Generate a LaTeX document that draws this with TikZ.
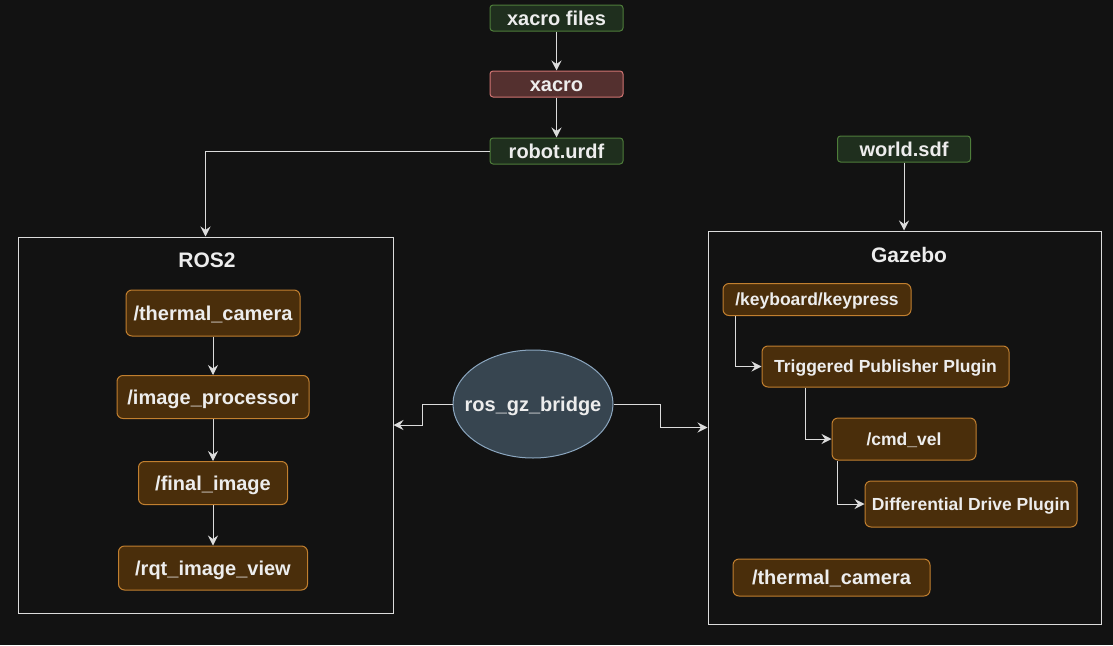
\documentclass[tikz,border=0pt]{standalone}
\usepackage{fontspec}
\setmainfont{Liberation Sans}
\usetikzlibrary{calc,arrows.meta,shapes.geometric}

\definecolor{bgcol}{HTML}{121212}
\definecolor{txtcol}{HTML}{EDEDED}
\definecolor{linecol}{HTML}{DCDCDC}
\definecolor{greenfill}{HTML}{1F2F1E}
\definecolor{greenline}{HTML}{4E7D3A}
\definecolor{redfill}{HTML}{54302F}
\definecolor{redline}{HTML}{D07472}
\definecolor{orangefill}{HTML}{4A2E0B}
\definecolor{orangeline}{HTML}{C17F2F}
\definecolor{bridgefill}{HTML}{374550}
\definecolor{bridgeline}{HTML}{8BA6BF}

\tikzset{
    base/.style={rounded corners=3pt, line width=1pt, text=txtcol, inner sep=0pt,
        font=\fontsize{20}{24}\selectfont\bfseries, text height=16pt, text depth=2pt, minimum height=26pt},
    filebox/.style={base, draw=greenline, fill=greenfill, minimum width=133pt},
    toolbox/.style={base, draw=redline, fill=redfill, minimum width=133pt},
    topicbox/.style={base, draw=orangeline, fill=orangefill, rounded corners=6pt},
    smalltext/.style={font=\fontsize{17.5}{21}\selectfont\bfseries, text height=14pt, text depth=1.5pt},
    titletext/.style={text=txtcol, font=\fontsize{21}{25}\selectfont\bfseries},
    groupbox/.style={draw=linecol, line width=1pt},
    arr/.style={-{Stealth[length=10pt,width=10pt,inset=3.5pt]}, draw=linecol, line width=1pt}
}

\begin{document}
\begin{tikzpicture}[x=1pt,y=-1pt]
            \fill [bgcol] (0,0) rectangle (1113,645);

            % file chain
            \node [filebox] (xfiles) at (556.5,18) {xacro files};
            \node [toolbox] (xacro) at (556.5,84) {xacro};
            \node [filebox] (urdf) at (556.5,151) {robot.urdf};
            \node [filebox] (world) at (904,149) {world.sdf};

            % groups
            \node [groupbox, minimum width=375pt, minimum height=376pt] (ros) at (205.5,425) {};
            \node [groupbox, minimum width=393pt, minimum height=393pt] (gz) at (904.5,427.5) {};
            \node [titletext] (rostitle) at (207,260) {ROS2};
            \node [titletext] (gztitle) at (909,255) {Gazebo};

            % ROS2 side
            \node [topicbox, minimum width=174pt, minimum height=46pt] (rcam) at (213,313) {/thermal\_camera};
            \node [topicbox, minimum width=192pt, minimum height=43pt] (proc) at (213,397) {/image\_processor};
            \node [topicbox, minimum width=149pt, minimum height=43pt] (final) at (213,483) {/final\_image};
            \node [topicbox, minimum width=189pt, minimum height=44pt] (rqt) at (213,568) {/rqt\_image\_view};

            % Gazebo side
            \node [topicbox, smalltext, minimum width=188pt, minimum height=32pt] (kbd) at (817,299.5) {/keyboard/keypress};
            \node [topicbox, smalltext, minimum width=247pt, minimum height=41pt] (tpp) at (885.5,366.5) {Triggered Publisher Plugin};
            \node [topicbox, smalltext, minimum width=144pt, minimum height=42pt] (cmd) at (904,439) {/cmd\_vel};
            \node [topicbox, smalltext, minimum width=212pt, minimum height=46pt] (ddp) at (971,504) {Differential Drive Plugin};
            \node [topicbox, minimum width=197pt, minimum height=37pt] (gcam) at (831.5,577.5) {/thermal\_camera};

            % bridge
            \node [ellipse, draw=bridgeline, fill=bridgefill, line width=1pt, text=txtcol, inner xsep=-14pt, inner ysep=0pt,
                minimum width=160pt, minimum height=108pt, font=\fontsize{20}{24}\selectfont\bfseries,
                text height=16pt, text depth=2pt] (bridge) at (533,404) {ros\_gz\_bridge};

            \draw [arr] (xfiles) -- (xacro);
            \draw [arr] (xacro) -- (urdf);
            \draw [arr] (urdf.west) -| (ros.north);
            \draw [arr] (world) -- (world |- gz.north);

            \draw [arr] (rcam) -- (proc);
            \draw [arr] (proc) -- (final);
            \draw [arr] (final) -- (rqt);

            \draw [arr] (bridge.west) -- ++(-30,0) |- (ros.east);
            \draw [arr] (bridge.east) -- ++(47,0) |- (gz.west);

            \draw [arr] ($(kbd.south west)+(13,0)$) |- (tpp.west);
            \draw [arr] ($(tpp.south west)+(44,0)$) |- (cmd.west);
            \draw [arr] ($(cmd.south west)+(6,0)$) |- (ddp.west);
        \end{tikzpicture}
\end{document}
